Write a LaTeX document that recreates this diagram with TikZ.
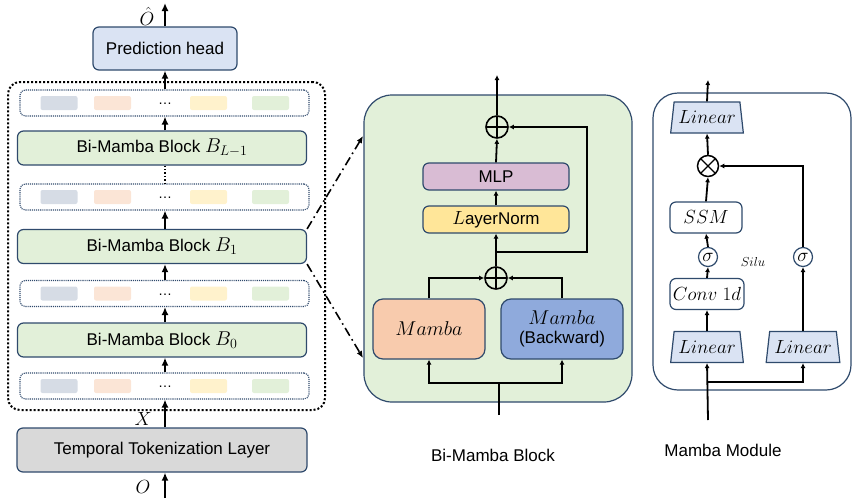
\documentclass[tikz,border=0pt]{standalone}
\usepackage{fix-cm}
\usepackage{amsmath,amssymb}
\usepackage{fontspec}
\setmainfont{Liberation Sans}
\usepackage{tikz}
\usetikzlibrary{arrows.meta,shapes.geometric}

\definecolor{edge}{HTML}{2F4A6C}
\definecolor{headfill}{HTML}{DAE3F3}
\definecolor{blockfill}{HTML}{E2F0D9}
\definecolor{tempfill}{HTML}{D9D9D9}
\definecolor{mlpfill}{HTML}{D9BCD4}
\definecolor{normfill}{HTML}{FFE699}
\definecolor{fwdfill}{HTML}{F8CBAD}
\definecolor{bwdfill}{HTML}{8FAADC}
\definecolor{tokA}{HTML}{D6DCE5}
\definecolor{tokB}{HTML}{FBE5D6}
\definecolor{tokC}{HTML}{FFF2CC}
\definecolor{tokD}{HTML}{E2F0D9}

\begin{document}
\begin{tikzpicture}
 [x=1pt,y=-1pt,font=\fontsize{17}{20}\selectfont,
  box/.style={draw=edge,line width=1.2pt,rounded corners=6pt,inner sep=0pt},
  strip/.style={draw=edge,densely dotted,line width=1.1pt,rounded corners=5pt,minimum width=289pt,minimum height=26pt},
  tok/.style={rounded corners=2pt,minimum width=37pt,minimum height=14pt,inner sep=0pt},
  big/.style={-{Latex[length=8pt,width=7pt]},line width=2.4pt},
  thin/.style={-{Latex[length=5pt,width=5pt]},line width=1.8pt},
  lin/.style={trapezium,trapezium angle=77,trapezium stretches=true,draw=edge,line width=1.2pt,fill=headfill,
   minimum width=73pt,minimum height=31pt,inner sep=0pt,font=\fontsize{19}{20}\selectfont},
  small/.style={box,fill=white,minimum height=31pt,font=\fontsize{19}{20}\selectfont},
  sumnode/.style={circle,draw,line width=1.6pt,minimum size=22pt,inner sep=0pt,
   path picture={\draw[line width=1.6pt] (path picture bounding box.north) -- (path picture bounding box.south)
    (path picture bounding box.west) -- (path picture bounding box.east);}},
  mulnode/.style={circle,draw,line width=1.5pt,minimum size=21pt,inner sep=0pt,
   path picture={\draw[line width=1.3pt] (path picture bounding box.north west) -- (path picture bounding box.south east)
    (path picture bounding box.south west) -- (path picture bounding box.north east);}},
  signode/.style={circle,draw=edge,line width=1.2pt,minimum size=19pt,inner sep=0pt,font=\fontsize{19}{19}\selectfont},
  zoomline/.style={dash pattern=on 9pt off 4pt on 1.6pt off 4pt,line width=1.6pt,-{Latex[length=7pt,width=6pt]}}]
 \useasboundingbox (0,0) rectangle (853,498);

 % left: stack of blocks
 \node[box,fill=headfill,minimum width=144pt,minimum height=43pt] (head) at (165,48.5) {Prediction head};
 \node[draw,dotted,line width=2pt,rounded corners=12pt,minimum width=317pt,minimum height=328pt] (stack) at (166.5,246) {};
 \foreach \name/\y in {s3/103,s2/197,s1/293.5,s0/386}{
  \node[strip] (\name) at (164.5,\y) {};
  \foreach \cx/\col in {59/tokA,112.5/tokB,208.5/tokC,270.5/tokD}
   \node[tok,fill=\col] (\name\col) at (\cx,\y) {};
  \node[font=\fontsize{14}{15}\selectfont] (\name dots) at (165,\y+1) {\dots};
 }
 \foreach \name/\y/\txt in {bL/148/{$B_{L-1}$},b1/246.5/{$B_1$},b0/340/{$B_0$}}
  \node[box,fill=blockfill,minimum width=289pt,minimum height=34pt] (\name) at (162,\y) {Bi-Mamba Block {\fontsize{20}{20}\selectfont\txt}};
 \node[box,fill=tempfill,minimum width=290pt,minimum height=44pt] (temp) at (162,450) {Temporal Tokenization Layer};
 \coordinate (out) at (165,3);
 \coordinate (in) at (165,498);
 \node[font=\fontsize{19}{20}\selectfont] (ohat) at (147,16) {$\hat{O}$};
 \node[font=\fontsize{19}{20}\selectfont] (xlab) at (143,419) {$X$};
 \node[font=\fontsize{19}{20}\selectfont] (olab) at (143,487) {$O$};

 \draw[big] (head.north) -- (out);
 \draw[big] (s3.north -| head) -- (head.south);
 \draw[big] (bL.north -| head) -- (s3.south -| head);
 \draw[dotted,line width=1.4pt] (bL.south -| head) -- (s2.north -| head);
 \draw[big] (b1.north -| head) -- (s2.south -| head);
 \draw[big] (s1.north -| head) -- (b1.south -| head);
 \draw[big] (b0.north -| head) -- (s1.south -| head);
 \draw[big] (s0.north -| head) -- (b0.south -| head);
 \draw[big] (temp.north -| head) -- (s0.south -| head);
 \draw[big] (in) -- (temp.south -| head);

 % middle: Bi-Mamba block
 \node[box,rounded corners=28pt,fill=blockfill,minimum width=268pt,minimum height=307pt] (bg1) at (498,248.5) {};
 \node[sumnode] (addT) at (497,127) {};
 \node[box,fill=mlpfill,minimum width=146pt,minimum height=27pt] (mlp) at (496,176.5) {MLP};
 \node[box,fill=normfill,minimum width=146pt,minimum height=27pt] (ln) at (496,219.5) {{\fontsize{19}{20}\selectfont$L$}ayerNorm};
 \node[sumnode] (addB) at (496,278) {};
 \node[box,rounded corners=10pt,fill=fwdfill,minimum width=112pt,minimum height=60pt,font=\fontsize{20}{20}\selectfont] (fwd) at (429,329) {$Mamba$};
 \node[box,rounded corners=10pt,fill=bwdfill,minimum width=122pt,minimum height=60pt,align=center] (bwd) at (562,329) {{\fontsize{20}{20}\selectfont$Mamba$}\\[-1pt](Backward)};
 \coordinate (bin) at (499,415);
 \coordinate (bsplit) at (499,383);
 \coordinate (bout) at (497,75);
 \coordinate (skip) at (496,252);
 \coordinate (skipR) at (587,252);
 \node (cap1) at (493,455) {Bi-Mamba Block};

 \draw[line width=1.8pt] (bin) -- (bsplit);
 \draw[thin] (bsplit) -| (fwd.south);
 \draw[thin] (bsplit) -| (bwd.south);
 \draw[thin] (fwd.north) |- (addB.west);
 \draw[thin] (bwd.north) |- (addB.east);
 \draw[thin] (addB.north) -- (ln.south);
 \draw[thin] (ln.north) -- (mlp.south);
 \draw[thin] (mlp.north) -- (addT.south);
 \draw[thin] (skip) -- (skipR) |- (addT.east);
 \draw[thin] (addT.north) -- (bout);

 \coordinate (zA) at (363,136);
 \coordinate (zB) at (363,358);
 \draw[zoomline] (b1.north east) -- (zA);
 \draw[zoomline] (b1.south east) -- (zB);

 % right: Mamba module
 \node[box,rounded corners=25pt,fill=white,minimum width=198pt,minimum height=297pt] (bg2) at (752,241.5) {};
 \node[lin] (linO) at (707,117.5) {$Linear$};
 \node[mulnode] (mul) at (708,166) {};
 \node[small,minimum width=72pt] (ssm) at (706,217.5) {$SSM$};
 \node[signode] (sigA) at (708,257) {$\sigma$};
 \node[font=\fontsize{13}{14}\selectfont] (silu) at (753,262) {$Silu$};
 \node[small,minimum width=74pt] (conv) at (707,294) {$Conv\;1d$};
 \node[lin] (linA) at (707,347) {$Linear$};
 \node[lin,minimum width=74pt] (linB) at (803,347) {$Linear$};
 \node[signode] (sigB) at (803,257) {$\sigma$};
 \coordinate (min) at (708,420);
 \coordinate (msplit) at (708,382);
 \coordinate (mout) at (708,80);
 \node (cap2) at (723,450) {Mamba Module};

 \draw[thin] (min) -- (linA.south);
 \draw[thin] (msplit) -| (linB.south);
 \draw[thin] (linA.north) -- (conv.south);
 \draw[thin] (conv.north) -- (sigA.south);
 \draw[thin] (sigA.north) -- (ssm.south);
 \draw[thin] (ssm.north) -- (mul.south);
 \draw[thin] (mul.north) -- (linO.south);
 \draw[thin] (linO.north) -- (mout);
 \draw[thin] (linB.north) -- (sigB.south);
 \draw[thin] (sigB.north) |- (mul.east);
\end{tikzpicture}
\end{document}
